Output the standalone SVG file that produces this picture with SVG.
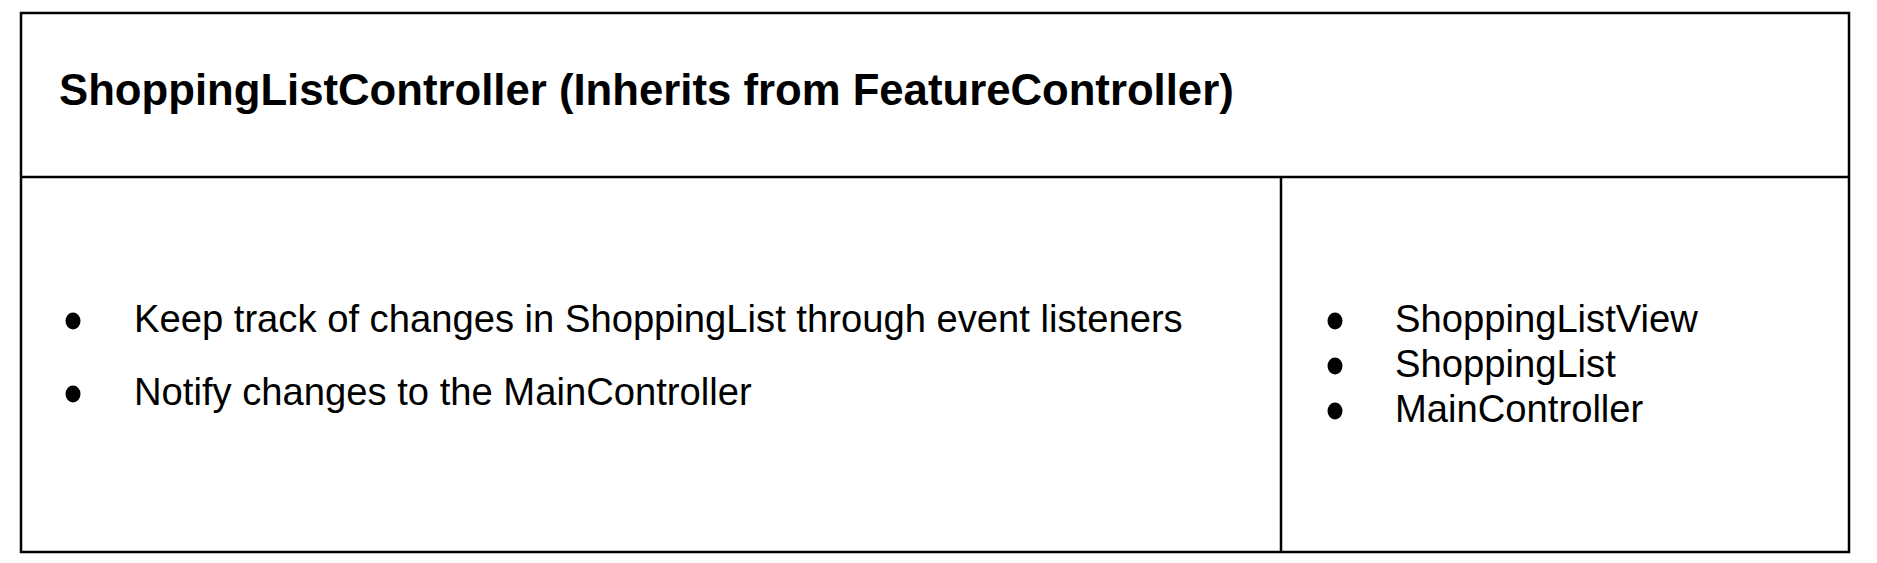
<svg xmlns="http://www.w3.org/2000/svg" width="1877" height="563" viewBox="0 0 1877 563">
<style>
.ln{stroke:#000;stroke-width:2.5;fill:none}
.t{font-family:"Liberation Sans",Arial,sans-serif;fill:#000}
.h{font-size:43.7px;font-weight:bold}
.b{font-size:38.2px}
.dot{fill:#000}
</style>
<rect width="1877" height="563" fill="#fff"/>
<g id="table">
<rect class="ln" x="21" y="13" width="1828" height="539"/>
<line class="ln" x1="21" y1="177" x2="1849" y2="177"/>
<line class="ln" x1="1281" y1="177" x2="1281" y2="552"/>
</g>
<g id="header">
<text class="t h" x="59" y="105">ShoppingListController (Inherits from FeatureController)</text>
</g>
<g id="responsibilities">
<ellipse class="dot" cx="73" cy="321" rx="7.5" ry="8.5"/>
<text class="t b" x="134" y="332">Keep track of changes in ShoppingList through event listeners</text>
<ellipse class="dot" cx="73" cy="394" rx="7.5" ry="8.5"/>
<text class="t b" x="134" y="405">Notify changes to the MainController</text>
</g>
<g id="collaborators">
<ellipse class="dot" cx="1335" cy="321" rx="7.5" ry="8.5"/>
<text class="t b" x="1395" y="332">ShoppingListView</text>
<ellipse class="dot" cx="1335" cy="366" rx="7.5" ry="8.5"/>
<text class="t b" x="1395" y="377">ShoppingList</text>
<ellipse class="dot" cx="1335" cy="411" rx="7.5" ry="8.5"/>
<text class="t b" x="1395" y="422">MainController</text>
</g>
</svg>
